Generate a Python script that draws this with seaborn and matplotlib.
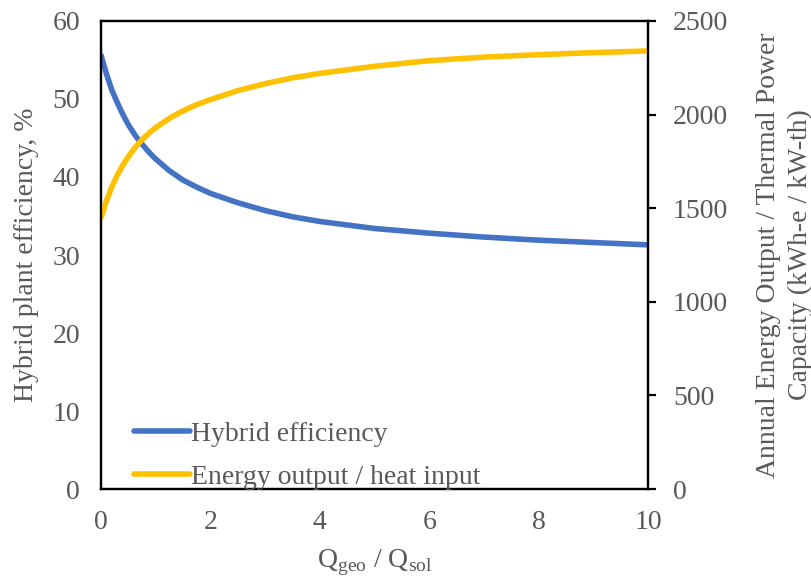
import numpy as np
import pandas as pd
import seaborn as sns
import matplotlib
matplotlib.use('Agg')
import matplotlib.pyplot as plt

# values
ratio = [0, 0.1, 0.2, 0.3, 0.4, 0.5, 0.6, 0.7, 0.8, 0.9, 1.0, 1.25, 1.5, 1.75,
         2, 2.5, 3, 3.5, 4, 5, 6, 7, 8, 9, 10]
hybrid_eff = [55.6, 53.2, 51.1, 49.5, 48.0, 46.7, 45.6, 44.6, 43.8, 43.0, 42.3, 40.8,
              39.6, 38.7, 37.9, 36.7, 35.7, 34.9, 34.3, 33.4, 32.8, 32.3, 31.9, 31.6, 31.3]
energy_out = [1450, 1540, 1615, 1678, 1730, 1775, 1815, 1850, 1880, 1907, 1930, 1980,
              2020, 2053, 2080, 2128, 2165, 2196, 2220, 2258, 2288, 2307, 2320, 2331, 2340]

df = pd.DataFrame({'ratio': ratio, 'eff': hybrid_eff, 'energy': energy_out})

sns.set_style('white')
plt.rcParams['font.family'] = ['Liberation Serif', 'DejaVu Serif']
plt.rcParams['mathtext.fontset'] = 'custom'
plt.rcParams['mathtext.rm'] = 'Liberation Serif'
grey = '#595959'
fs = 20

fig = plt.figure(figsize=(8.12, 5.81), dpi=100)
ax = fig.add_axes([0.1244, 0.1583, 0.6736, 0.8056])
ax2 = ax.twinx()

sns.lineplot(data=df, x='ratio', y='eff', ax=ax, color='#4472C4', lw=4,
             label='Hybrid efficiency', legend=False)
sns.lineplot(data=df, x='ratio', y='energy', ax=ax2, color='#FFC000', lw=4,
             label='Energy output / heat input', legend=False)

ax.set_xlim(0, 10)
ax.set_ylim(0, 60)
ax2.set_ylim(0, 2500)
ax.set_xticks([0, 2, 4, 6, 8, 10])
ax.set_yticks(range(0, 61, 10))
ax2.set_yticks(range(0, 2501, 500))

for a in (ax, ax2):
    for s in a.spines.values():
        s.set_color('black')
        s.set_linewidth(1.6)

ax.tick_params(axis='both', length=0, labelsize=fs, labelcolor=grey, pad=15)
ax2.tick_params(axis='y', length=6, width=1.6, direction='out', color='black',
                labelsize=fs, labelcolor=grey, pad=12, right=True)

ax.set_xlabel('Q$_{\\mathrm{geo}}$ / Q$_{\\mathrm{sol}}$', fontsize=fs, color=grey, labelpad=9)
ax.set_ylabel('Hybrid plant efficiency, %', fontsize=fs, color=grey, labelpad=10)
ax2.set_ylabel('Annual Energy Output / Thermal Power\nCapacity (kWh-e / kW-th)',
               fontsize=fs, color=grey, labelpad=20, linespacing=1.35)

h1, l1 = ax.get_legend_handles_labels()
h2, l2 = ax2.get_legend_handles_labels()
leg = ax2.legend(h1 + h2, l1 + l2, loc='lower left', bbox_to_anchor=(0.015, -0.055),
                 frameon=False, fontsize=fs, handlelength=2.0, handletextpad=0.05,
                 labelspacing=0.62)
for t in leg.get_texts():
    t.set_color(grey)

fig.savefig('out.png', dpi=100)
